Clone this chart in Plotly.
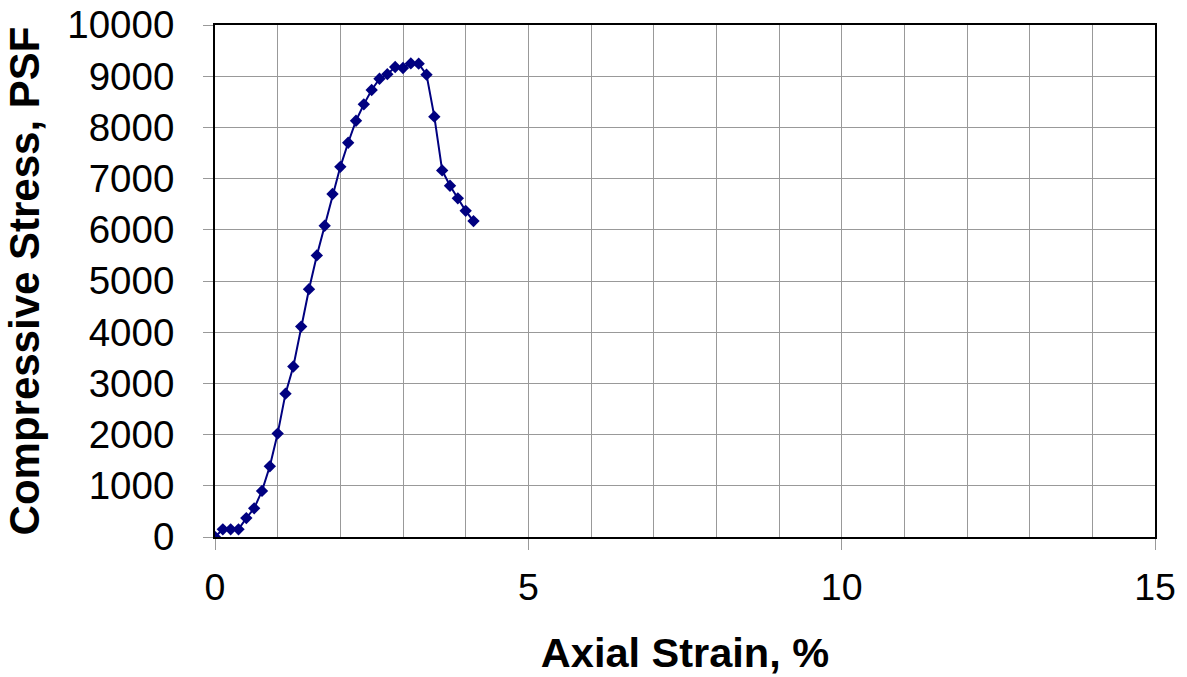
import plotly.graph_objects as go

strain = [0.0, 0.125, 0.25, 0.375, 0.5, 0.625, 0.75, 0.875, 1.0, 1.125,
          1.25, 1.375, 1.5, 1.625, 1.75, 1.875, 2.0, 2.125, 2.25, 2.375,
          2.5, 2.625, 2.75, 2.875, 3.0, 3.125, 3.25, 3.375, 3.5, 3.625,
          3.75, 3.875, 4.0, 4.125]
stress = [0, 150, 150, 150, 370, 560, 900, 1380, 2020, 2800,
          3330, 4110, 4840, 5500, 6080, 6700, 7230, 7700, 8130, 8450,
          8730, 8950, 9040, 9180, 9160, 9250, 9245, 9030, 8210, 7160,
          6860, 6615, 6370, 6170]

x_title = "Axial Strain, %"
y_title = "Compressive Stress, PSF"

fig = go.Figure()
fig.add_trace(go.Scatter(
    x=strain, y=stress, mode="lines+markers",
    line=dict(color="#000080", width=2),
    marker=dict(symbol="diamond", size=9.5, color="#000080"),
    showlegend=False,
))

font_family = "Liberation Sans, Arial, sans-serif"
fig.update_layout(
    width=1187, height=677,
    margin=dict(l=215, r=32, t=25, b=140, autoexpand=False),
    paper_bgcolor="white", plot_bgcolor="white",
    font=dict(family=font_family, color="black"),
)
fig.update_xaxes(
    range=[0, 15], tick0=0, dtick=5, tickformat="d", automargin=False,
    showgrid=True, gridcolor="#999999", gridwidth=1,
    minor=dict(dtick=1, showgrid=True, gridcolor="#999999", gridwidth=1),
    ticks="outside", ticklen=11, tickcolor="#999999",
    showline=True, linecolor="black", linewidth=2, mirror=True,
    tickfont=dict(size=37.5, family=font_family),
    title=dict(text="<b>" + x_title + "</b>", font=dict(size=41.5, family=font_family), standoff=31),
    zeroline=False, ticklabelstandoff=5,
)
fig.update_yaxes(
    range=[0, 10000], tick0=0, dtick=1000, tickformat="d", automargin=False,
    showgrid=True, gridcolor="#999999", gridwidth=1,
    ticks="outside", ticklen=10, tickcolor="#999999",
    showline=True, linecolor="black", linewidth=2, mirror=True,
    tickfont=dict(size=38.5, family=font_family),
    title=dict(text="<b>" + y_title + "</b>", font=dict(size=42, family=font_family), standoff=15),
    zeroline=False, ticklabelstandoff=21,
)
fig.write_html("out.html")
